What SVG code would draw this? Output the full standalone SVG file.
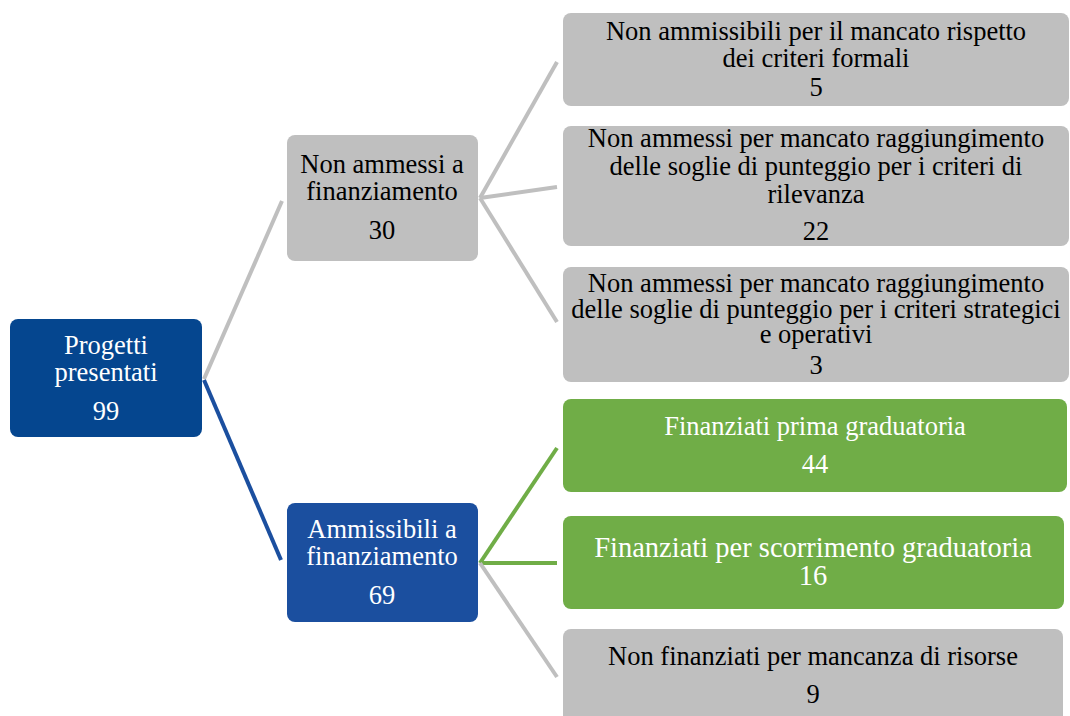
<svg xmlns="http://www.w3.org/2000/svg" width="1070" height="716" viewBox="0 0 1070 716" font-family="'Liberation Serif', Tinos, 'Times New Roman', serif">
<style>
  text { font-family: 'Liberation Serif', Tinos, 'Times New Roman', serif; font-size: 26.5px; text-anchor: middle; }
  .dk { fill: #000000; }
  .wt { fill: #ffffff; }
  .gray { fill: #BFBFBF; }
  .root { fill: #05468F; }
  .blue { fill: #1B4F9F; }
  .green { fill: #70AD47; }
  .c-gray { stroke: #BFBFBF; stroke-width: 4; fill: none; }
  .c-blue { stroke: #1B4F9F; stroke-width: 4; fill: none; }
  .c-green { stroke: #70AD47; stroke-width: 4; fill: none; }
</style>
<rect width="1070" height="716" fill="#ffffff"/>
<g id="connectors">
  <line class="c-gray" x1="204" y1="379" x2="282" y2="201"/>
  <line class="c-blue" x1="204" y1="380" x2="281" y2="560"/>
  <line class="c-gray" x1="480" y1="198" x2="557" y2="62"/>
  <line class="c-gray" x1="480" y1="198" x2="557" y2="187"/>
  <line class="c-gray" x1="480" y1="198" x2="557" y2="322"/>
  <line class="c-green" x1="480" y1="563" x2="557" y2="448"/>
  <line class="c-green" x1="480" y1="563" x2="557" y2="563"/>
  <line class="c-gray" x1="480" y1="563" x2="557" y2="677"/>
</g>
<g id="root">
  <rect class="root" x="10" y="319" width="192" height="118" rx="8"/>
  <text class="wt" x="106" y="354">Progetti</text>
  <text class="wt" x="106" y="381">presentati</text>
  <text class="wt" x="106" y="420">99</text>
</g>
<g id="non-ammessi">
  <rect class="gray" x="287" y="135" width="191" height="126" rx="8"/>
  <text class="dk" x="382" y="173">Non ammessi a</text>
  <text class="dk" x="382" y="200">finanziamento</text>
  <text class="dk" x="382" y="239">30</text>
</g>
<g id="ammissibili">
  <rect class="blue" x="287" y="503" width="191" height="119" rx="8"/>
  <text class="wt" x="382" y="538">Ammissibili a</text>
  <text class="wt" x="382" y="565">finanziamento</text>
  <text class="wt" x="382" y="604">69</text>
</g>
<g id="formali">
  <rect class="gray" x="563" y="13" width="506" height="93" rx="8"/>
  <text class="dk" x="816" y="40">Non ammissibili per il mancato rispetto</text>
  <text class="dk" x="816" y="67">dei criteri formali</text>
  <text class="dk" x="816" y="96">5</text>
</g>
<g id="rilevanza">
  <rect class="gray" x="563" y="126" width="506" height="120" rx="8"/>
  <text class="dk" x="816" y="147">Non ammessi per mancato raggiungimento</text>
  <text class="dk" x="816" y="175">delle soglie di punteggio per i criteri di</text>
  <text class="dk" x="816" y="203">rilevanza</text>
  <text class="dk" x="816" y="240">22</text>
</g>
<g id="strategici">
  <rect class="gray" x="563" y="267" width="506" height="115" rx="8"/>
  <text class="dk" x="816" y="292">Non ammessi per mancato raggiungimento</text>
  <text class="dk" x="816" y="318">delle soglie di punteggio per i criteri strategici</text>
  <text class="dk" x="816" y="343">e operativi</text>
  <text class="dk" x="816" y="374">3</text>
</g>
<g id="prima">
  <rect class="green" x="563" y="399" width="504" height="93" rx="8"/>
  <text class="wt" x="815" y="435">Finanziati prima graduatoria</text>
  <text class="wt" x="815" y="473">44</text>
</g>
<g id="scorrimento">
  <rect class="green" x="563" y="516" width="501" height="93" rx="8"/>
  <text class="wt" x="813" y="557" style="font-size:28.5px">Finanziati per scorrimento graduatoria</text>
  <text class="wt" x="813" y="585" style="font-size:28.5px">16</text>
</g>
<g id="risorse">
  <rect class="gray" x="563" y="629" width="500" height="100" rx="8"/>
  <text class="dk" x="813" y="665">Non finanziati per mancanza di risorse</text>
  <text class="dk" x="813" y="703">9</text>
</g>
</svg>
